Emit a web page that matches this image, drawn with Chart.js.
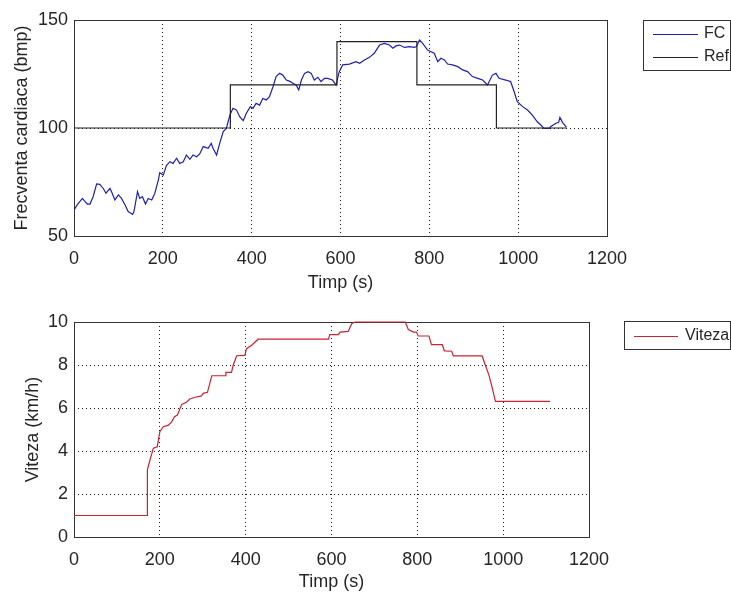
<!DOCTYPE html>
<html>
<head>
<meta charset="utf-8">
<script src="https://cdn.jsdelivr.net/npm/chart.js@4"></script>
<style>
  body { margin: 0; background: #fff; }
  #wrap { position: relative; width: 731px; height: 593px; }
  canvas { position: absolute; left: 0; }
</style>
</head>
<body>
<div id="wrap">
  <canvas id="hrChart" width="731" height="296" style="top:0"></canvas>
  <canvas id="speedChart" width="731" height="297" style="top:296px"></canvas>
</div>
<script>
// heart rate
const fcTime = [0,7,19,25,30,36,43,51,58,66,72,81,86,92,100,107,115,122,132,135,143,148,154,161,167,175,182,190,193,201,
  208,216,223,231,238,246,253,261,268,276,283,291,302,309,313,321,328,336,343,351,358,366,373,381,388,397,403,410,418,425,
  433,440,448,455,463,470,478,485,493,500,506,512,519,527,534,541,549,556,564,571,582,590,597,605,620,635,643,654,665,676,
  688,699,710,718,725,733,744,755,766,771,778,785,796,804,811,819,826,834,841,852,864,875,886,897,909,920,931,942,950,957,
  972,983,991,998,1010,1021,1032,1043,1051,1058,1070,1073,1085,1091,1094,1100,1109];
const fcValues = [62,64.4,67.4,65.9,64.8,64.8,68.2,74.1,73.9,72,69.8,72,69.8,66.7,69,67.4,64.4,61.3,60,61.3,70.5,67.4,68.2,64.8,67.4,66.7,69.8,76,79.3,78.2,
  82.6,84.4,83.6,86,83.6,84.4,87.5,85.5,87.5,86.7,88,91.4,90.6,92.9,90.6,87.5,92.9,98.3,99.8,106,109.1,108.3,105.2,103.4,106.8,109.9,109.1,111.4,110.6,113.7,
  113,114.5,119.1,123.8,125.3,124.5,122.2,121.7,120.7,119.9,117.6,122.2,125.3,126.1,125.3,122.2,123.5,121.5,123,123,122.2,119.9,126,129.2,129.6,130.7,130,131.5,132.7,134.6,
  138.4,139.2,138.4,136.9,138,138.4,137.3,137.7,137.3,137.7,140.7,139.2,136.1,135.3,134.6,130.7,132.3,131.5,129.6,129.2,128.4,126.9,126.1,123.8,123,122.2,119.9,124.5,125.3,123,
  122.2,121.5,116.8,112.2,109.9,108.3,106,102.9,101.4,99.8,99.8,100.6,102.2,102.5,104.9,102.5,100.3];

// reference steps
const refTime = [0, 352, 592, 772, 951, 1108];
const refValues = [100, 120, 140, 120, 100, 100];

// speed
const speedTime = [0,171,171,177,185,194,200,208,220,228,234,241,251,262,270,282,297,301,311,321,352,354,367,371,379,398,402,414,429,593,
  596,616,620,639,647,655,772,779,791,798,802,827,833,858,863,880,884,951,958,967,975,982,1109];
const speedValues = [1,1,3.12,3.58,4.13,4.2,4.9,5.13,5.2,5.37,5.6,5.67,6.17,6.27,6.42,6.5,6.56,6.68,6.73,7.5,7.5,7.66,7.66,8.0,8.43,8.45,8.76,8.92,9.2,9.2,
  9.41,9.41,9.53,9.56,9.92,10,10,9.65,9.53,9.53,9.35,9.35,8.95,8.95,8.66,8.64,8.42,8.42,8.02,7.52,6.9,6.31,6.31];

const xTicks = [0, 200, 400, 600, 800, 1000, 1200];
const hrTicks = [50, 100, 150];
const speedTicks = [0, 2, 4, 6, 8, 10];

const textColor = "#262626";
const fontFamily = "'Liberation Sans', Arial, sans-serif";
const tickFont = { family: fontFamily, size: 18 };

function pairs(xs, ys) {
  return xs.map((x, i) => ({ x: x, y: ys[i] }));
}

function axis(ticks, title, size, titlePad, horizontal) {
  return {
    type: "linear",
    min: ticks[0],
    max: ticks[ticks.length - 1],
    ticks: {
      stepSize: ticks[1] - ticks[0], color: textColor, font: tickFont,
      padding: horizontal ? 12 : 6, maxRotation: 0,
      callback: v => String(v)
    },
    grid: { color: "#1a1a1a", lineWidth: 1, drawTicks: false },
    border: { display: false, dash: [1, 3] },
    title: { display: true, text: title, color: textColor, font: tickFont, padding: { top: titlePad, bottom: titlePad } },
    afterFit: function (s) { if (horizontal) s.height = size; else s.width = size; }
  };
}

// axes box like the original
const boxPlugin = {
  id: "box",
  beforeDatasetsDraw(chart) {
    const a = chart.chartArea, ctx = chart.ctx;
    ctx.save();
    ctx.strokeStyle = "#333";
    ctx.lineWidth = 1;
    ctx.strokeRect(Math.round(a.left) + 0.5, Math.round(a.top) + 0.5, Math.round(a.right - a.left), Math.round(a.bottom - a.top));
    ctx.restore();
  }
};

const legendBox = {
  id: "legendBox",
  afterDraw(chart, args, o) {
    const ctx = chart.ctx;
    ctx.save();
    ctx.fillStyle = "#fff";
    ctx.fillRect(o.x, o.y, o.w, o.h);
    ctx.strokeStyle = "#333";
    ctx.lineWidth = 1;
    ctx.strokeRect(o.x + 0.5, o.y + 0.5, o.w, o.h);
    ctx.font = "16px " + fontFamily;
    ctx.textBaseline = "middle";
    chart.data.datasets.forEach(function (ds, i) {
      const cy = o.y + o.rowTop + i * o.rowH;
      ctx.strokeStyle = ds.borderColor;
      ctx.beginPath();
      ctx.moveTo(o.x + 10, cy + 0.5);
      ctx.lineTo(o.x + o.lineEnd, cy + 0.5);
      ctx.stroke();
      ctx.fillStyle = textColor;
      ctx.fillText(ds.label, o.x + 61, cy);
    });
    ctx.restore();
  }
};

new Chart(document.getElementById("hrChart"), {
  type: "line",
  data: {
    datasets: [
      { label: "FC", data: pairs(fcTime, fcValues), borderColor: "#1f1fb4", borderWidth: 1.2, pointRadius: 0, order: 1 },
      { label: "Ref", data: pairs(refTime, refValues), borderColor: "#222", borderWidth: 1.2, pointRadius: 0, stepped: "before", order: 0 }
    ]
  },
  options: {
    responsive: false,
    animation: false,
    layout: { padding: { top: 20, right: 124, left: 0, bottom: 0 } },
    scales: {
      x: axis(xTicks, "Timp (s)", 60, 2, true),
      y: axis(hrTicks, "Frecventa cardiaca (bmp)", 74, 11, false)
    },
    plugins: {
      legend: { display: false },
      tooltip: { enabled: false },
      legendBox: { x: 643, y: 20, w: 87, h: 50, rowTop: 14, rowH: 23, lineEnd: 55 }
    }
  },
  plugins: [boxPlugin, legendBox]
});

new Chart(document.getElementById("speedChart"), {
  type: "line",
  data: {
    datasets: [
      { label: "Viteza", data: pairs(speedTime, speedValues), borderColor: "#cc2233", borderWidth: 1.2, pointRadius: 0, clip: 3 }
    ]
  },
  options: {
    responsive: false,
    animation: false,
    layout: { padding: { top: 26, right: 142, left: 0, bottom: 0 } },
    scales: {
      x: axis(xTicks, "Timp (s)", 56, 0, true),
      y: axis(speedTicks, "Viteza (km/h)", 74, 22, false)
    },
    plugins: {
      legend: { display: false },
      tooltip: { enabled: false },
      legendBox: { x: 624, y: 25, w: 106, h: 28, rowTop: 15, rowH: 23, lineEnd: 54 }
    }
  },
  plugins: [boxPlugin, legendBox]
});
</script>
</body>
</html>
